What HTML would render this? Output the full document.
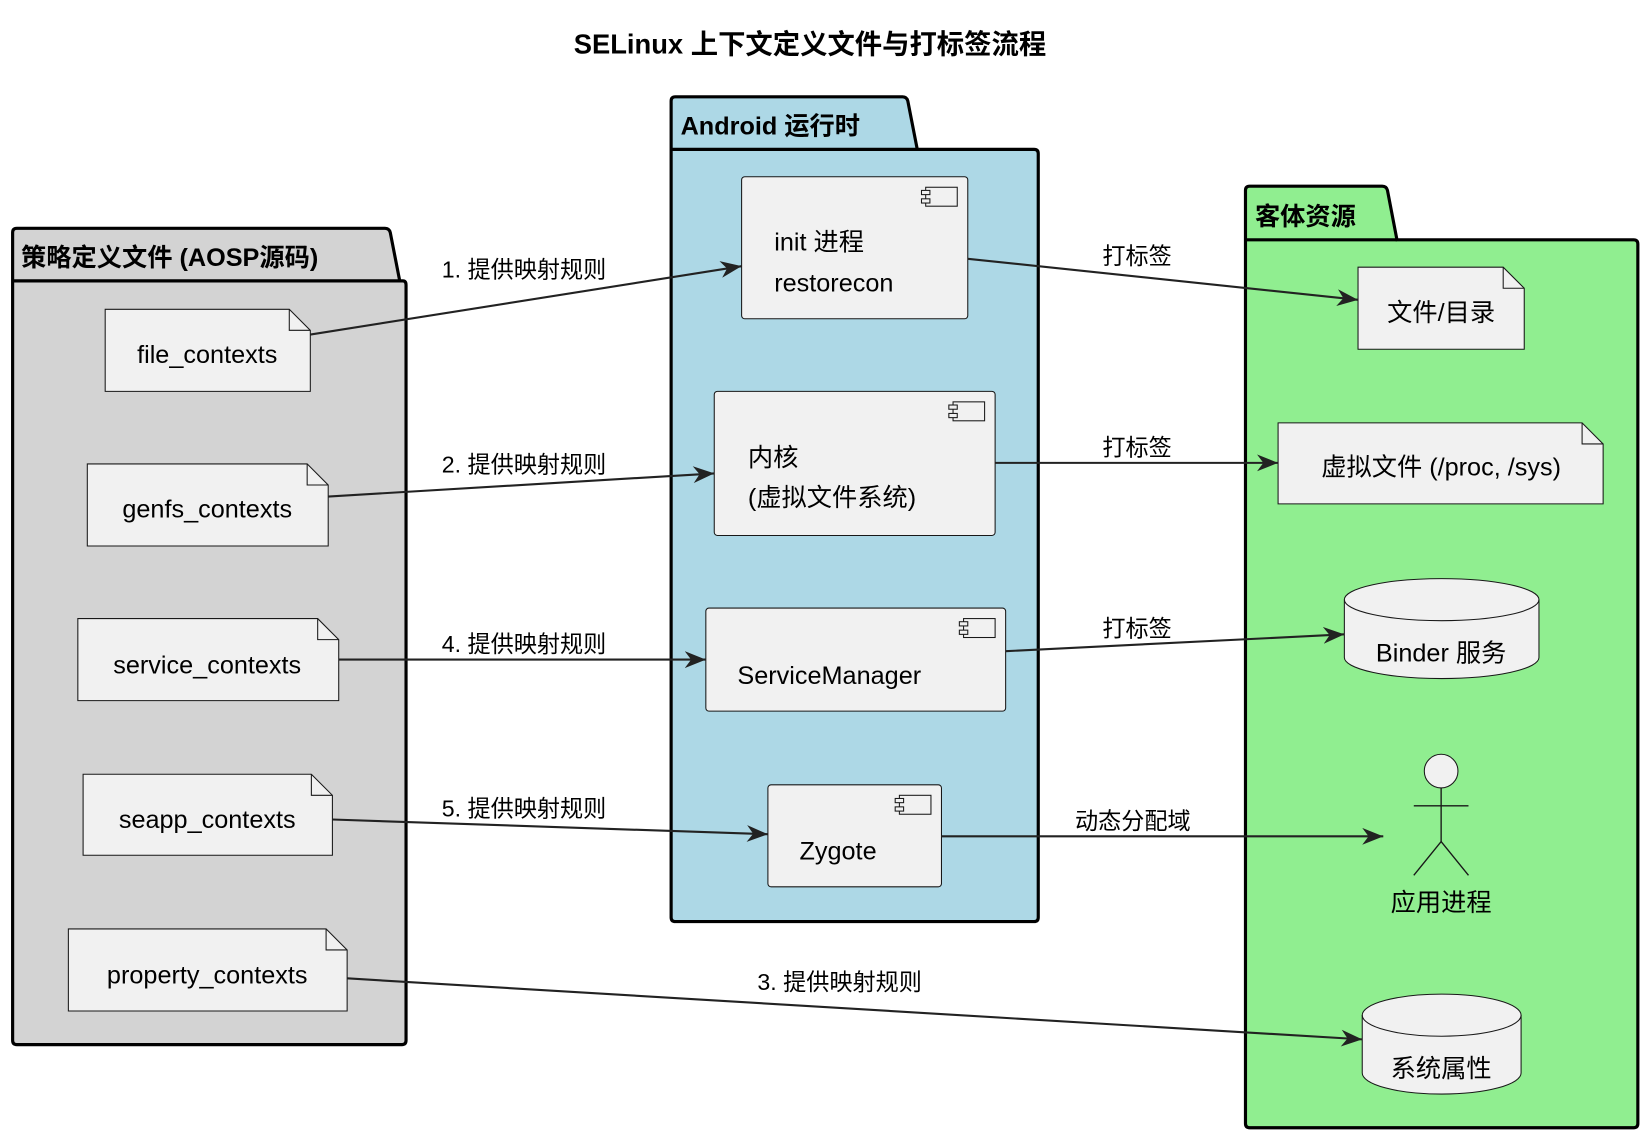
<!DOCTYPE html>
<html><head><meta charset="utf-8"><style>
html,body{margin:0;padding:0;background:#fff}
svg{display:block}
text{font-family:"Liberation Sans","Noto Sans CJK SC",sans-serif;fill:#000}
.n{font-size:24px}
.l{font-size:22px}
.b{font-weight:bold}
</style></head><body>
<svg width="1641" height="1133" viewBox="0 0 1560 1077" preserveAspectRatio="none" xmlns="http://www.w3.org/2000/svg">
<defs>
<marker id="a" viewBox="0 0 20 16" refX="20" refY="8" markerWidth="20" markerHeight="16" markerUnits="userSpaceOnUse" orient="auto">
<path d="M0,0 L20,8 L0,16 L6,8 Z" fill="#222"/>
</marker>
</defs>
<text x="770" y="51" text-anchor="middle" class="b" style="font-size:26px">SELinux 上下文定义文件与打标签流程</text>

<!-- left package -->
<path d="M12,267 L12,221 Q12,217 16,217 L366,217 Q370,217 371,221 L380,267 L383,267 Q386,267 386,271 L386,989 Q386,993 382,993 L16,993 Q12,993 12,989 Z" fill="#d3d3d3" stroke="#000" stroke-width="3"/>
<line x1="12" y1="267" x2="380" y2="267" stroke="#000" stroke-width="3"/>
<text x="20" y="253" class="b" style="font-size:24px">策略定义文件 (AOSP源码)</text>

<!-- middle package -->
<path d="M638,142 L638,96 Q638,92 642,92 L858,92 Q862,92 863,96 L872,142 L983,142 Q987,142 987,146 L987,872 Q987,876 983,876 L642,876 Q638,876 638,872 Z" fill="#add8e6" stroke="#000" stroke-width="3"/>
<line x1="638" y1="142" x2="872" y2="142" stroke="#000" stroke-width="3"/>
<text x="647" y="128" class="b" style="font-size:24px">Android 运行时</text>

<!-- right package -->
<path d="M1184,228 L1184,181 Q1184,177 1188,177 L1314,177 Q1318,177 1319,181 L1328,228 L1553,228 Q1557,228 1557,232 L1557,1068 Q1557,1072 1553,1072 L1188,1072 Q1184,1072 1184,1068 Z" fill="#90ee90" stroke="#000" stroke-width="3"/>
<line x1="1184" y1="228" x2="1328" y2="228" stroke="#000" stroke-width="3"/>
<text x="1193" y="214" class="b" style="font-size:24px">客体资源</text>

<g fill="#f1f1f1" stroke="#181818" stroke-width="1">
<!-- notes -->
<path d="M100,294 L275,294 L295,314 L295,372 L100,372 Z"/><path d="M275,294 L275,314 L295,314" fill="none"/>
<path d="M83,441 L292,441 L312,461 L312,519 L83,519 Z"/><path d="M292,441 L292,461 L312,461" fill="none"/>
<path d="M74,588 L302,588 L322,608 L322,666 L74,666 Z"/><path d="M302,588 L302,608 L322,608" fill="none"/>
<path d="M79,736 L296,736 L316,756 L316,813 L79,813 Z"/><path d="M296,736 L296,756 L316,756" fill="none"/>
<path d="M65,883 L310,883 L330,903 L330,961 L65,961 Z"/><path d="M310,883 L310,903 L330,903" fill="none"/>
<path d="M1291,254 L1429,254 L1449,274 L1449,332 L1291,332 Z"/><path d="M1429,254 L1429,274 L1449,274" fill="none"/>
<path d="M1215,402 L1504,402 L1524,422 L1524,479 L1215,479 Z"/><path d="M1504,402 L1504,422 L1524,422" fill="none"/>
<!-- components -->
<rect x="705" y="168" width="215" height="135" rx="3"/>
<rect x="679" y="372" width="267" height="137" rx="3"/>
<rect x="671" y="578" width="285" height="98" rx="3"/>
<rect x="730" y="746" width="165" height="97" rx="3"/>
<!-- component icons -->
<rect x="880" y="178" width="30" height="18"/><rect x="876" y="181" width="8" height="4"/><rect x="876" y="189" width="8" height="4"/>
<rect x="906" y="382" width="30" height="18"/><rect x="902" y="385" width="8" height="4"/><rect x="902" y="393" width="8" height="4"/>
<rect x="916" y="588" width="30" height="18"/><rect x="912" y="591" width="8" height="4"/><rect x="912" y="599" width="8" height="4"/>
<rect x="855" y="756" width="30" height="18"/><rect x="851" y="759" width="8" height="4"/><rect x="851" y="767" width="8" height="4"/>
<!-- cylinders -->
<path d="M1278,570 A92.5,20 0 0 1 1463,570 L1463,625 A92.5,20 0 0 1 1278,625 Z"/>
<path d="M1278,570 A92.5,20 0 0 0 1463,570" fill="none"/>
<path d="M1295,965 A75.5,20 0 0 1 1446,965 L1446,1020 A75.5,20 0 0 1 1295,1020 Z"/>
<path d="M1295,965 A75.5,20 0 0 0 1446,965" fill="none"/>
<!-- actor -->
<circle cx="1370" cy="733" r="16"/>
</g>
<g stroke="#181818" stroke-width="1.3" fill="none">
<line x1="1370" y1="749" x2="1370" y2="800"/>
<line x1="1344" y1="766" x2="1396" y2="766"/>
<path d="M1344,832 L1370,800 L1396,832"/>
</g>

<!-- node text -->
<g class="n">
<text x="197" y="345" text-anchor="middle" class="n">file_contexts</text>
<text x="197" y="492" text-anchor="middle" class="n">genfs_contexts</text>
<text x="197" y="640" text-anchor="middle" class="n">service_contexts</text>
<text x="197" y="787" text-anchor="middle" class="n">seapp_contexts</text>
<text x="197" y="935" text-anchor="middle" class="n">property_contexts</text>
<text x="736" y="238" class="n">init 进程</text>
<text x="736" y="277" class="n">restorecon</text>
<text x="711" y="443" class="n">内核</text>
<text x="711" y="481" class="n">(虚拟文件系统)</text>
<text x="701" y="650" class="n">ServiceManager</text>
<text x="760" y="817" class="n">Zygote</text>
<text x="1370" y="305" text-anchor="middle" class="n">文件/目录</text>
<text x="1370" y="452" text-anchor="middle" class="n">虚拟文件 (/proc, /sys)</text>
<text x="1370" y="629" text-anchor="middle" class="n">Binder 服务</text>
<text x="1370" y="866" text-anchor="middle" class="n">应用进程</text>
<text x="1370" y="1024" text-anchor="middle" class="n">系统属性</text>
</g>

<!-- arrows -->
<g stroke="#222" stroke-width="2" fill="none" marker-end="url(#a)">
<line x1="295" y1="318" x2="705" y2="253"/>
<line x1="312" y1="472" x2="679" y2="450"/>
<line x1="322" y1="627" x2="671" y2="627"/>
<line x1="316" y1="779" x2="730" y2="793"/>
<line x1="330" y1="930" x2="1295" y2="988"/>
<line x1="920" y1="246" x2="1291" y2="285"/>
<line x1="946" y1="440" x2="1215" y2="440"/>
<line x1="956" y1="619" x2="1278" y2="603"/>
<line x1="895" y1="795" x2="1315" y2="795"/>
</g>
<g class="l">
<text x="420" y="264" class="l">1. 提供映射规则</text>
<text x="420" y="449" class="l">2. 提供映射规则</text>
<text x="420" y="620" class="l">4. 提供映射规则</text>
<text x="420" y="776" class="l">5. 提供映射规则</text>
<text x="720" y="941" class="l">3. 提供映射规则</text>
<text x="1048" y="251" class="l">打标签</text>
<text x="1048" y="433" class="l">打标签</text>
<text x="1048" y="605" class="l">打标签</text>
<text x="1022" y="788" class="l">动态分配域</text>
</g>
</svg>
</body></html>
